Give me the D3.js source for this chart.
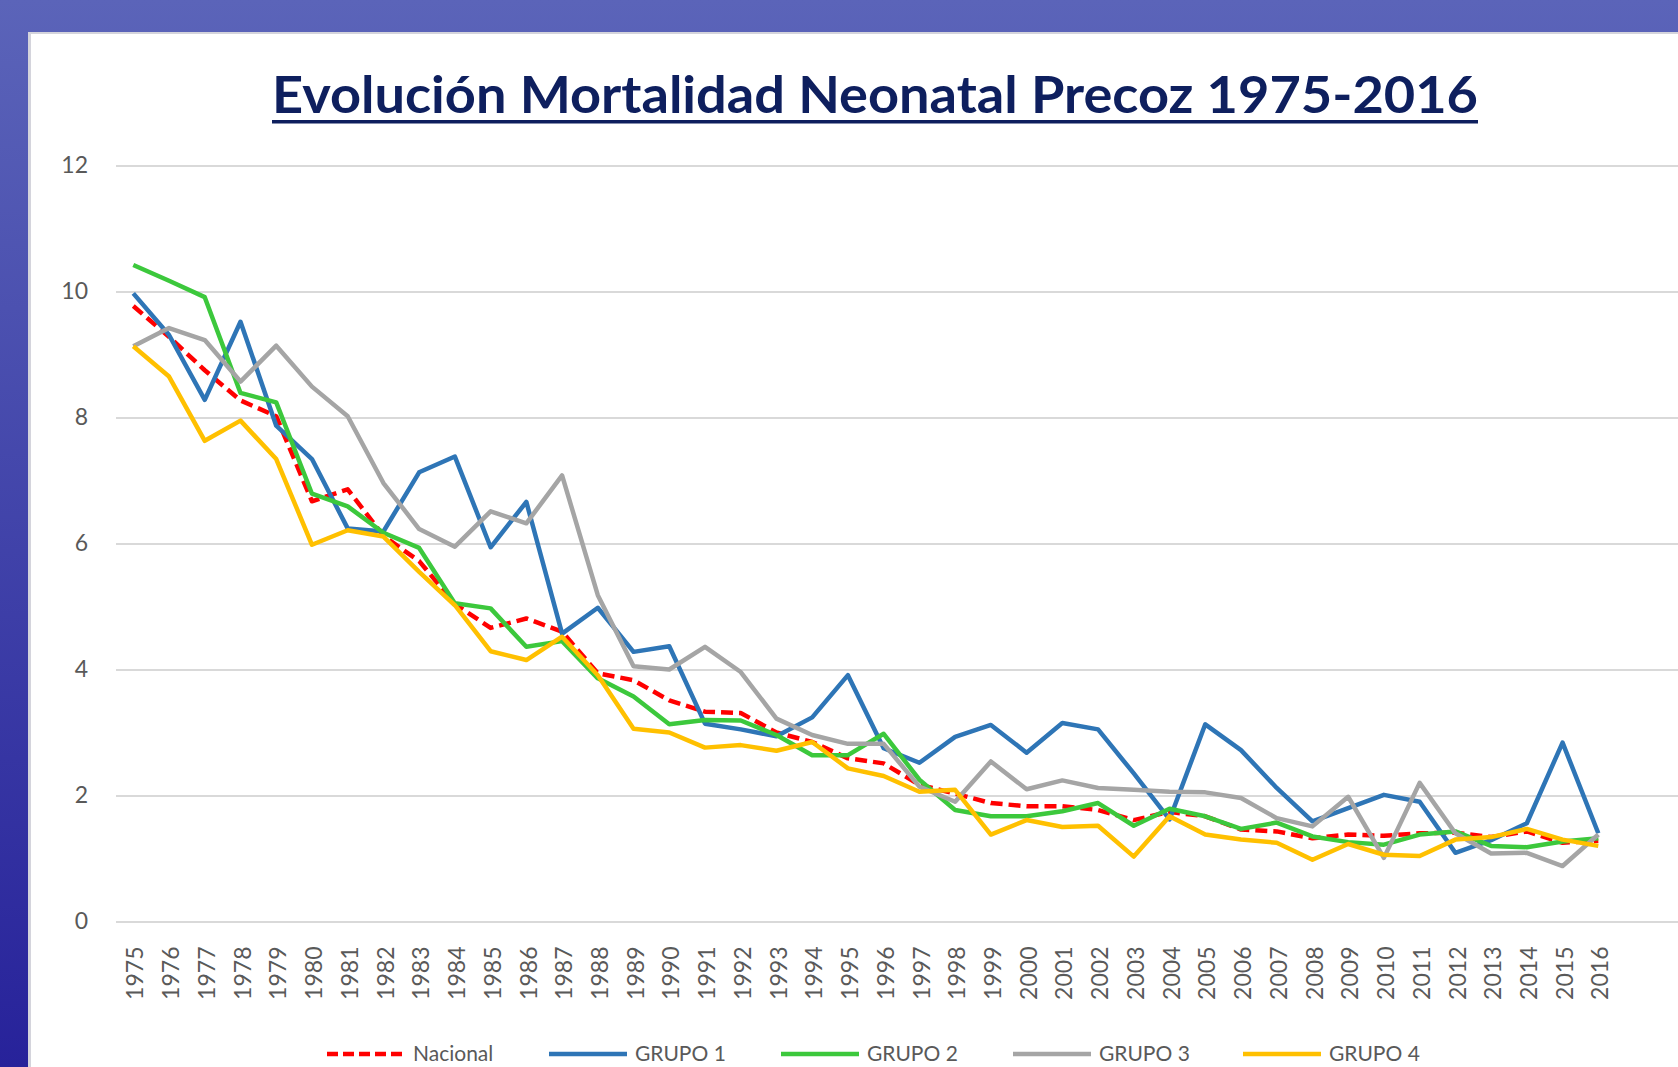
<!DOCTYPE html>
<html>
    <head>
        <meta charset="utf-8">
        <script type="text/javascript" src="https://d3js.org/d3.v7.min.js"></script>
        <style>
            body { margin: 0; background: #fff; }
            svg { display: block; }
        </style>
    </head>
    <body>
        <div id="viz"></div>

        <script type="text/javascript">

         // years on the category axis
         var years = [1975, 1976, 1977, 1978, 1979, 1980, 1981, 1982, 1983, 1984,
                      1985, 1986, 1987, 1988, 1989, 1990, 1991, 1992, 1993, 1994,
                      1995, 1996, 1997, 1998, 1999, 2000, 2001, 2002, 2003, 2004,
                      2005, 2006, 2007, 2008, 2009, 2010, 2011, 2012, 2013, 2014,
                      2015, 2016];

         var nacional = [9.77, 9.28, 8.75, 8.27, 8.02, 6.67, 6.86, 6.12, 5.72, 5.04,
                         4.66, 4.81, 4.60, 3.94, 3.83, 3.51, 3.33, 3.31, 3.00, 2.85,
                         2.59, 2.51, 2.17, 2.03, 1.88, 1.83, 1.83, 1.77, 1.61, 1.74,
                         1.67, 1.46, 1.43, 1.32, 1.38, 1.36, 1.40, 1.41, 1.34, 1.43,
                         1.25, 1.28];

         var grupo1 = [9.97, 9.31, 8.28, 9.52, 7.87, 7.34, 6.24, 6.19, 7.13, 7.38,
                       5.94, 6.66, 4.57, 4.98, 4.28, 4.37, 3.14, 3.05, 2.94, 3.24,
                       3.91, 2.75, 2.52, 2.93, 3.12, 2.68, 3.15, 3.05, 2.35, 1.62,
                       3.13, 2.72, 2.12, 1.59, 1.80, 2.01, 1.90, 1.09, 1.29, 1.56,
                       2.84, 1.40];

         var grupo2 = [10.42, 10.17, 9.91, 8.39, 8.24, 6.79, 6.59, 6.17, 5.93, 5.05,
                       4.97, 4.36, 4.45, 3.86, 3.57, 3.13, 3.20, 3.19, 2.96, 2.64,
                       2.64, 2.98, 2.25, 1.77, 1.67, 1.67, 1.75, 1.88, 1.52, 1.79,
                       1.67, 1.47, 1.57, 1.35, 1.26, 1.22, 1.38, 1.43, 1.20, 1.18,
                       1.27, 1.32];

         var grupo3 = [9.13, 9.42, 9.23, 8.57, 9.14, 8.49, 8.02, 6.96, 6.23, 5.95,
                       6.51, 6.32, 7.08, 5.18, 4.05, 4.00, 4.36, 3.96, 3.22, 2.96,
                       2.82, 2.82, 2.14, 1.90, 2.54, 2.10, 2.24, 2.12, 2.09, 2.06,
                       2.05, 1.96, 1.64, 1.51, 1.98, 1.01, 2.20, 1.40, 1.08, 1.09,
                       0.88, 1.38];

         var grupo4 = [9.13, 8.65, 7.63, 7.95, 7.34, 5.98, 6.21, 6.11, 5.55, 5.02,
                       4.29, 4.15, 4.52, 3.91, 3.06, 3.00, 2.76, 2.80, 2.71, 2.85,
                       2.43, 2.31, 2.06, 2.09, 1.38, 1.61, 1.50, 1.52, 1.03, 1.67,
                       1.38, 1.30, 1.25, 0.98, 1.23, 1.06, 1.04, 1.30, 1.34, 1.47,
                       1.30, 1.20];

         var yTicks = [0, 2, 4, 6, 8, 10, 12];

         var seriesNames = ["Nacional", "GRUPO 1", "GRUPO 2", "GRUPO 3", "GRUPO 4"];
         var seriesValues = [nacional, grupo1, grupo2, grupo3, grupo4];
         var seriesColors = ["#ff0000", "#2e75b6", "#3cc83c", "#a5a5a5", "#ffc000"];

         var W = 1678, H = 1067;
         var font = "Lato, 'Open Sans', sans-serif";

         var svg = d3.select("#viz")
                     .append("svg")
                     .attr("width", W)
                     .attr("height", H);

         /**
          * slide background: blue frame and white panel
          */
         var grad = svg.append("defs").append("linearGradient")
                       .attr("id", "frame")
                       .attr("x1", 0).attr("y1", 0).attr("x2", 0).attr("y2", 1);
         grad.append("stop").attr("offset", 0).attr("stop-color", "#5b64b9");
         grad.append("stop").attr("offset", 1).attr("stop-color", "#27229a");

         svg.append("rect").attr("width", W).attr("height", H).style("fill", "url(#frame)");
         svg.append("rect").attr("x", 28).attr("y", 32).attr("width", W).attr("height", H)
            .style("fill", "#d4d4dc");
         svg.append("rect").attr("x", 31).attr("y", 34).attr("width", W).attr("height", H)
            .style("fill", "#ffffff");

         // title, underlined
         var title = svg.append("text")
                        .attr("x", 875)
                        .attr("y", 113)
                        .attr("text-anchor", "middle")
                        .attr("textLength", 1206)
                        .attr("lengthAdjust", "spacingAndGlyphs")
                        .style("font-family", font)
                        .style("font-weight", "bold")
                        .style("font-size", "51px")
                        .style("fill", "#0e1f5e")
                        .text("Evolución Mortalidad Neonatal Precoz 1975-2016");

         svg.append("rect")
            .attr("x", 272).attr("y", 120).attr("width", 1206).attr("height", 3.5)
            .style("fill", "#0e1f5e");

         /**
          * scales
          */
         var x = d3.scalePoint().domain(years).range([133.3, 1598.3]);
         var y = d3.scaleLinear().domain([0, 12]).range([921.5, 165.5]);

         // gridlines
         var grid = svg.append("g")
                       .attr("transform", "translate(116,0)")
                       .call(d3.axisRight(y).tickValues(yTicks).tickSize(W - 116).tickFormat(""));
         grid.select(".domain").remove();
         grid.selectAll("line").style("stroke", "#d9d9d9").style("stroke-width", 2);

         // y labels
         var yAxis = svg.append("g")
                        .attr("transform", "translate(88,0)")
                        .call(d3.axisLeft(y).tickValues(yTicks).tickSize(0).tickPadding(0));
         yAxis.select(".domain").remove();
         yAxis.selectAll("text")
              .style("font-family", font)
              .style("font-size", "23px")
              .style("fill", "#595959");

         // x labels, rotated
         var xAxis = svg.append("g")
                        .attr("transform", "translate(0," + y(0) + ")")
                        .call(d3.axisBottom(x).tickSize(0));
         xAxis.select(".domain").remove();
         xAxis.selectAll("text")
              .attr("transform", "rotate(-90)")
              .attr("x", -25)
              .attr("y", 0)
              .attr("dy", "0.42em")
              .style("text-anchor", "end")
              .style("font-family", font)
              .style("font-size", "23px")
              .style("fill", "#595959");

         /**
          * series lines
          */
         var line = d3.line()
                      .x(function(d, i) { return x(years[i]); })
                      .y(function(d) { return y(d); });

         svg.selectAll("path.serie")
            .data(seriesValues)
            .enter().append("path")
            .attr("class", "serie")
            .attr("d", line)
            .style("fill", "none")
            .style("stroke", function(d, i) { return seriesColors[i]; })
            .style("stroke-width", 4.5)
            .style("stroke-linejoin", "round")
            .style("stroke-dasharray", function(d, i) { return i == 0 ? "12,6" : null; });

         /**
          * legend at the bottom edge
          */
         var legendLeft = [327, 549, 781, 1013, 1243];

         var legend = svg.selectAll("g.legend")
                         .data(seriesNames)
                         .enter().append("g")
                         .attr("class", "legend")
                         .attr("transform", function(d, i) { return "translate(" + legendLeft[i] + ",1054)"; });

         legend.append("line")
               .attr("x1", 0).attr("x2", 78)
               .style("stroke", function(d, i) { return seriesColors[i]; })
               .style("stroke-width", 4.5)
               .style("stroke-dasharray", function(d, i) { return i == 0 ? "11,5" : null; });

         legend.append("text")
               .attr("x", 86)
               .attr("y", 7)
               .style("font-family", font)
               .style("font-size", "21px")
               .style("fill", "#595959")
               .text(function(d) { return d; });

        </script>
    </body>
</html>
